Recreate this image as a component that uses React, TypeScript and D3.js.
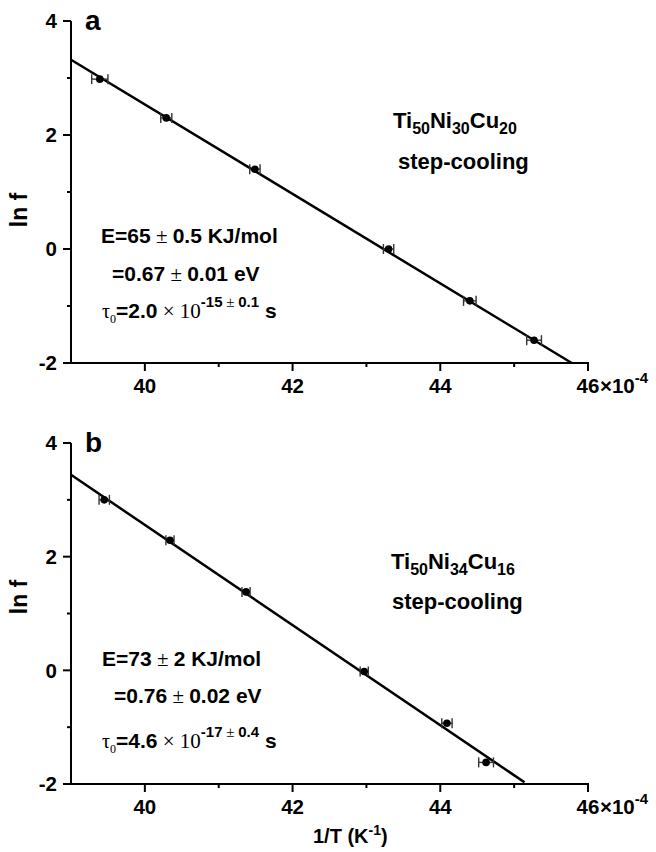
import * as d3 from "d3";

// panel a: Ti50Ni30Cu20
const aX = [39.39, 40.29, 41.49, 43.3, 44.4, 45.27];
const aY = [2.98, 2.3, 1.4, 0.0, -0.91, -1.6];
const aErr = [0.11, 0.075, 0.07, 0.07, 0.085, 0.1];
const aFit: [number, number][] = [[39, 3.32], [45.78, -2]];

// panel b: Ti50Ni34Cu16
const bX = [39.45, 40.34, 41.37, 42.97, 44.09, 44.62];
const bY = [3.0, 2.29, 1.38, -0.02, -0.93, -1.62];
const bErr = [0.07, 0.055, 0.055, 0.055, 0.07, 0.1];
const bFit: [number, number][] = [[39, 3.44], [45.14, -1.97]];

const xTicks = [40, 42, 44, 46];
const xMinor = [41, 43, 45];
const yTicks = [-2, 0, 2, 4];
const yMinor = [-1, 1, 3];

const sans = "'Liberation Sans', Arial, sans-serif";
const serif = "'Liberation Serif', 'Times New Roman', serif";

const x = d3.scaleLinear().domain([39, 46]).range([71, 588]);

type PanelProps = {
  top: number;
  bottom: number;
  xs: number[];
  ys: number[];
  errs: number[];
  fit: [number, number][];
  letter: string;
  comp: [string, string][];
  eLine: string[];
  evLine: string[];
  tau: string;
  tauExp: string[];
  lnfY: number;
  ann: { comp: number; step: number; e: number; ev: number; tau: number; compX: number; stepX: number; eX: number; evX: number };
};

function Panel(p: PanelProps) {
  const y = d3.scaleLinear().domain([-2, 4]).range([p.bottom, p.top]);
  const line = d3
    .line<[number, number]>()
    .x((d) => x(d[0]))
    .y((d) => y(d[1]));
  const x0 = x(39);
  const y0 = y(-2);
  return (
    <g>
      {/* axes */}
      <line x1={x0} x2={x0} y1={y(4)} y2={y0 + 1} stroke="#000" strokeWidth={2} />
      <line x1={x0 - 1} x2={x(46) + 1} y1={y0} y2={y0} stroke="#000" strokeWidth={2} />
      {yTicks.map((t) => (
        <g key={"yt" + t}>
          <line x1={x0 - 8} x2={x0} y1={y(t)} y2={y(t)} stroke="#000" strokeWidth={2} />
          <text x={57} y={y(t)} dy="0.36em" textAnchor="end" fontFamily={sans} fontWeight="bold" fontSize={20.5}>
            {t}
          </text>
        </g>
      ))}
      {yMinor.map((t) => (
        <line key={"ym" + t} x1={x0 - 4} x2={x0} y1={y(t)} y2={y(t)} stroke="#000" strokeWidth={2} />
      ))}
      {xTicks.map((t) => (
        <g key={"xt" + t}>
          <line x1={x(t)} x2={x(t)} y1={y0} y2={y0 + 8} stroke="#000" strokeWidth={2} />
          <text x={x(t)} y={y0 + 30} textAnchor="middle" fontFamily={sans} fontWeight="bold" fontSize={20.5}>
            {t}
          </text>
        </g>
      ))}
      {xMinor.map((t) => (
        <line key={"xm" + t} x1={x(t)} x2={x(t)} y1={y0} y2={y0 + 4} stroke="#000" strokeWidth={2} />
      ))}
      <text x={600} y={y0 + 30} fontFamily={sans} fontWeight="bold" fontSize={20.5}>
        ×10
        <tspan dy={-10} fontSize={15}>
          -4
        </tspan>
      </text>
      <text
        transform={`translate(27, ${p.lnfY}) rotate(-90)`}
        textAnchor="middle"
        fontFamily={sans}
        fontWeight="bold"
        fontSize={23}
      >
        ln f
      </text>
      <text x={85} y={p.top + 9} fontFamily={sans} fontWeight="bold" fontSize={28}>
        {p.letter}
      </text>

      {/* fit */}
      <path d={line(p.fit) ?? ""} fill="none" stroke="#000" strokeWidth={2.5} />

      {/* points with horizontal error bars */}
      {p.xs.map((v, i) => {
        const cx = x(v);
        const cy = y(p.ys[i]);
        const l = x(v - p.errs[i]);
        const r = x(v + p.errs[i]);
        return (
          <g key={"p" + i}>
            <line x1={l} x2={r} y1={cy} y2={cy} stroke="#333" strokeWidth={1.4} />
            <line x1={l} x2={l} y1={cy - 5} y2={cy + 5} stroke="#333" strokeWidth={1.4} />
            <line x1={r} x2={r} y1={cy - 5} y2={cy + 5} stroke="#333" strokeWidth={1.4} />
            <circle cx={cx} cy={cy} r={3.8} fill="#000" />
          </g>
        );
      })}

      {/* annotations */}
      <text x={p.ann.compX} y={p.ann.comp} fontFamily={sans} fontWeight="bold" fontSize={22}>
        {p.comp.map(([el, n], i) => (
          <tspan key={i}>
            <tspan dy={i === 0 ? 0 : -6}>{el}</tspan>
            <tspan dy={6} fontSize={16}>
              {n}
            </tspan>
          </tspan>
        ))}
      </text>
      <text x={p.ann.stepX} y={p.ann.step} fontFamily={sans} fontWeight="bold" fontSize={22}>
        step-cooling
      </text>
      <text x={p.ann.eX} y={p.ann.e} fontFamily={sans} fontWeight="bold" fontSize={21}>
        {p.eLine[0]}
        <tspan fontFamily={serif} fontWeight="normal">
          {" ± "}
        </tspan>
        {p.eLine[1]}
      </text>
      <text x={p.ann.evX} y={p.ann.ev} fontFamily={sans} fontWeight="bold" fontSize={21}>
        {p.evLine[0]}
        <tspan fontFamily={serif} fontWeight="normal">
          {" ± "}
        </tspan>
        {p.evLine[1]}
      </text>
      <text x={102} y={p.ann.tau} fontFamily={sans} fontWeight="bold" fontSize={21}>
        <tspan fontFamily={serif} fontWeight="normal" fontSize={20}>
          τ
        </tspan>
        <tspan fontFamily={serif} fontWeight="normal" fontSize={12} dy={5}>
          0
        </tspan>
        <tspan dy={-5}>{p.tau}</tspan>
        <tspan fontFamily={serif} fontWeight="normal">
          {" × 10"}
        </tspan>
        <tspan dy={-11} fontSize={15}>
          {p.tauExp[0]}
        </tspan>
        <tspan fontSize={15} fontFamily={serif} fontWeight="normal">
          {" ± "}
        </tspan>
        <tspan fontSize={15}>{p.tauExp[1]}</tspan>
        <tspan dy={11}>{" s"}</tspan>
      </text>
    </g>
  );
}

export default function App() {
  return (
    <svg
      width={656}
      height={852}
      style={{ position: "absolute", left: 0, top: 0, background: "#fff" }}
    >
      <Panel
        top={21}
        bottom={363}
        xs={aX}
        ys={aY}
        errs={aErr}
        fit={aFit}
        letter="a"
        comp={[["Ti", "50"], ["Ni", "30"], ["Cu", "20"]]}
        eLine={"E=65|0.5 KJ/mol".split("|")}
        evLine={"=0.67|0.01 eV".split("|")}
        tau="=2.0"
        tauExp={["-15", "0.1"]}
        lnfY={210}
        ann={{ comp: 128, step: 169, e: 243, ev: 281, tau: 318, compX: 393, stepX: 398, eX: 101, evX: 112 }}
      />
      <Panel
        top={443}
        bottom={784}
        xs={bX}
        ys={bY}
        errs={bErr}
        fit={bFit}
        letter="b"
        comp={[["Ti", "50"], ["Ni", "34"], ["Cu", "16"]]}
        eLine={"E=73|2 KJ/mol".split("|")}
        evLine={"=0.76|0.02 eV".split("|")}
        tau="=4.6"
        tauExp={["-17", "0.4"]}
        lnfY={597}
        ann={{ comp: 569, step: 609, e: 666, ev: 703, tau: 748, compX: 391, stepX: 392, eX: 102, evX: 114 }}
      />
      <text x={313} y={843} fontFamily={sans} fontWeight="bold" fontSize={20}>
        1/T (K
        <tspan dy={-8} fontSize={14}>
          -1
        </tspan>
        <tspan dy={8}>)</tspan>
      </text>
    </svg>
  );
}
